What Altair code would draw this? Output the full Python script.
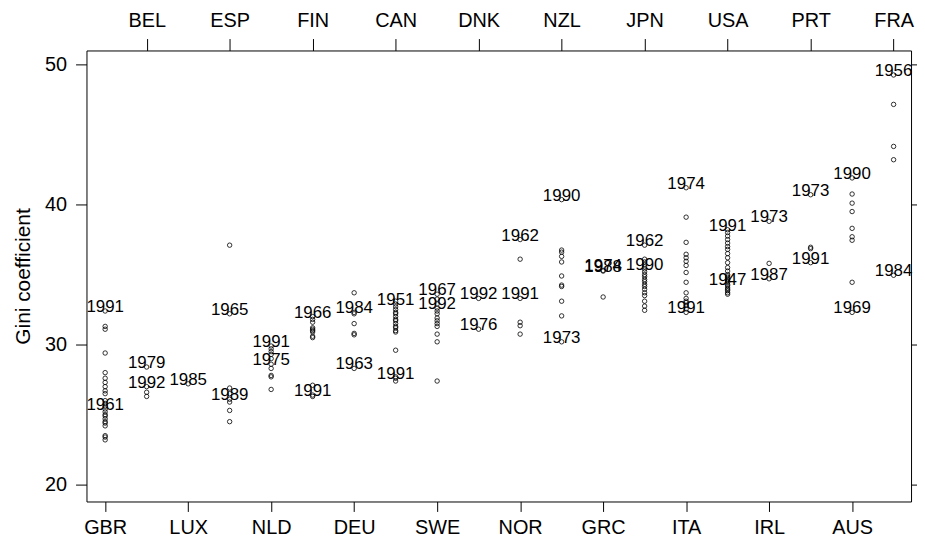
import altair as alt
import pandas as pd

countries = ["GBR", "BEL", "LUX", "ESP", "NLD", "FIN", "DEU", "CAN", "SWE", "DNK",
             "NOR", "NZL", "GRC", "JPN", "ITA", "USA", "IRL", "PRT", "AUS", "FRA"]

gbr = [32.4, 31.3, 31.1, 29.4, 28.0, 27.6, 27.3, 27.0, 26.7, 26.5, 26.0, 25.8, 25.6,
       25.4, 25.2, 25.0, 24.9, 24.7, 24.5, 24.4, 24.2, 23.5, 23.4, 23.2]
bel = [28.4, 27.0, 26.6, 26.3]
lux = [27.2]
esp = [37.1, 32.2, 26.9, 26.5, 26.1, 25.9, 25.3, 24.5]
nld = [29.9, 29.7, 29.5, 29.3, 29.0, 28.6, 28.3, 27.8, 27.7, 26.8]
fin = [32.0, 31.8, 31.6, 31.2, 31.1, 31.0, 30.9, 30.6, 30.5, 27.1, 26.4, 26.3]
deu = [33.7, 32.3, 32.2, 31.5, 30.8, 30.7, 28.3]
can = [33.1, 32.9, 32.7, 32.5, 32.3, 32.2, 32.0, 31.8, 31.7, 31.5, 31.3, 31.2, 31.0,
       30.9, 29.6, 27.7, 27.6, 27.4]
swe = [33.6, 33.25, 32.9, 32.6, 32.4, 32.2, 31.9, 31.7, 31.5, 31.3, 30.75, 30.2, 27.4]
dnk = [33.3, 31.1]
nor = [37.5, 36.1, 33.3, 31.6, 31.35, 30.75]
nzl = [40.35, 36.75, 36.6, 36.3, 35.9, 34.9, 34.25, 34.15, 33.1, 32.05, 30.2]
grc = [35.3, 35.25, 33.4]
jpn = [37.1, 36.1, 35.9, 35.7, 35.55, 35.4, 35.2, 35.0, 34.85, 34.65, 34.5, 34.3,
       34.15, 33.95, 33.7, 33.5, 33.1, 32.75, 32.45]
ita = [41.2, 39.1, 37.3, 36.45, 36.2, 35.95, 35.65, 35.15, 34.45, 33.7, 33.3, 33.1,
       33.0, 32.8, 32.55, 32.3]
usa = [38.2, 38.0, 37.75, 37.5, 37.25, 37.0, 36.8, 36.5, 36.2, 35.85, 35.5, 35.25,
       35.0, 34.9, 34.8, 34.65, 34.55, 34.45, 34.3, 34.2, 34.05, 33.95, 33.85, 33.7, 33.6]
irl = [38.8, 35.8, 34.7]
prt = [40.7, 36.95, 36.85, 35.85]
aus = [41.9, 40.75, 40.1, 39.5, 38.3, 37.7, 37.45, 34.45, 32.3]
fra = [49.25, 47.15, 44.15, 43.2, 34.95]

series = [gbr, bel, lux, esp, nld, fin, deu, can, swe, dnk,
          nor, nzl, grc, jpn, ita, usa, irl, prt, aus, fra]

label_country = ["GBR", "GBR", "BEL", "BEL", "LUX", "ESP", "ESP", "NLD", "NLD",
                 "FIN", "FIN", "DEU", "DEU", "CAN", "CAN", "SWE", "SWE", "DNK", "DNK",
                 "NOR", "NOR", "NZL", "NZL", "GRC", "GRC", "JPN", "JPN", "ITA", "ITA",
                 "USA", "USA", "IRL", "IRL", "PRT", "PRT", "AUS", "AUS", "FRA", "FRA"]
label_year = ["1991", "1961", "1979", "1992", "1985", "1965", "1989", "1991", "1975",
              "1966", "1991", "1984", "1963", "1951", "1991", "1967", "1992", "1992", "1976",
              "1962", "1991", "1990", "1973", "1974", "1988", "1962", "1990", "1974", "1991",
              "1991", "1947", "1973", "1987", "1973", "1991", "1990", "1969", "1956", "1984"]
label_gini = [32.4, 25.4, 28.4, 27.0, 27.2, 32.2, 26.1, 29.9, 28.6,
              32.0, 26.4, 32.3, 28.3, 32.9, 27.6, 33.6, 32.6, 33.3, 31.1,
              37.5, 33.3, 40.35, 30.2, 35.3, 35.25, 37.1, 35.4, 41.2, 32.3,
              38.2, 34.3, 38.8, 34.7, 40.7, 35.85, 41.9, 32.3, 49.25, 34.95]

rows = []
for i, (c, vals) in enumerate(zip(countries, series)):
    for v in vals:
        rows.append({"country": c, "idx": i + 1, "gini": v})
points_df = pd.DataFrame(rows)

labels_df = pd.DataFrame({
    "country": label_country,
    "idx": [countries.index(c) + 1 for c in label_country],
    "gini": label_gini,
    "year": label_year,
})

FONT = "Liberation Sans"
names_js = "[''," + ",".join("'" + c + "'" for c in countries) + "]"

xscale = alt.Scale(domain=[0.55, 20.42], nice=False, zero=False)
yscale = alt.Scale(domain=[18.8, 51.0], nice=False, zero=False)

odd_vals = list(range(1, 21, 2))
even_vals = list(range(2, 21, 2))
yticks = [20, 30, 40, 50]

points = alt.Chart(points_df).mark_point(
    shape="circle", filled=False, size=20, color="black", strokeWidth=0.8, opacity=1
).encode(
    x=alt.X("idx:Q", scale=xscale,
            axis=alt.Axis(orient="bottom", values=odd_vals, labelExpr=names_js + "[datum.value]",
                          title=None, grid=False, domain=False, tickSize=10, labelPadding=6,
                          labelFontSize=20, labelFont=FONT, labelColor="black",
                          tickColor="black", labelFlush=False)),
    y=alt.Y("gini:Q", scale=yscale,
            axis=alt.Axis(orient="left", values=yticks, title="Gini coefficient",
                          grid=False, domain=False, tickSize=11, labelPadding=9,
                          labelFontSize=20, labelFont=FONT, labelColor="black",
                          tickColor="black", titleFont=FONT, titleFontSize=21,
                          titleFontWeight="normal", titleColor="black", titlePadding=11,
                          labelFlush=False)),
)

labels = alt.Chart(labels_df).mark_text(
    font=FONT, fontSize=17, color="black", align="center", baseline="alphabetic", dy=1
).encode(
    x=alt.X("idx:Q", scale=xscale,
            axis=alt.Axis(orient="top", values=even_vals, labelExpr=names_js + "[datum.value]",
                          title=None, grid=False, domain=False, tickSize=12, labelPadding=8,
                          labelFontSize=20, labelFont=FONT, labelColor="black",
                          tickColor="black", labelFlush=False)),
    y=alt.Y("gini:Q", scale=yscale,
            axis=alt.Axis(orient="right", values=yticks, labels=False, title=None,
                          grid=False, domain=False, tickSize=10, tickColor="black")),
    text="year:N",
)

chart = alt.layer(points, labels).resolve_axis(x="independent", y="independent").properties(
    width=830,
    height=454,
    autosize=alt.AutoSizeParams(type="none"),
    padding={"left": 79, "top": 41, "right": 6, "bottom": 36},
    background="white",
).configure_view(stroke="black", strokeWidth=1)

chart.save("out.html", embed_options={"renderer": "svg", "actions": False})
